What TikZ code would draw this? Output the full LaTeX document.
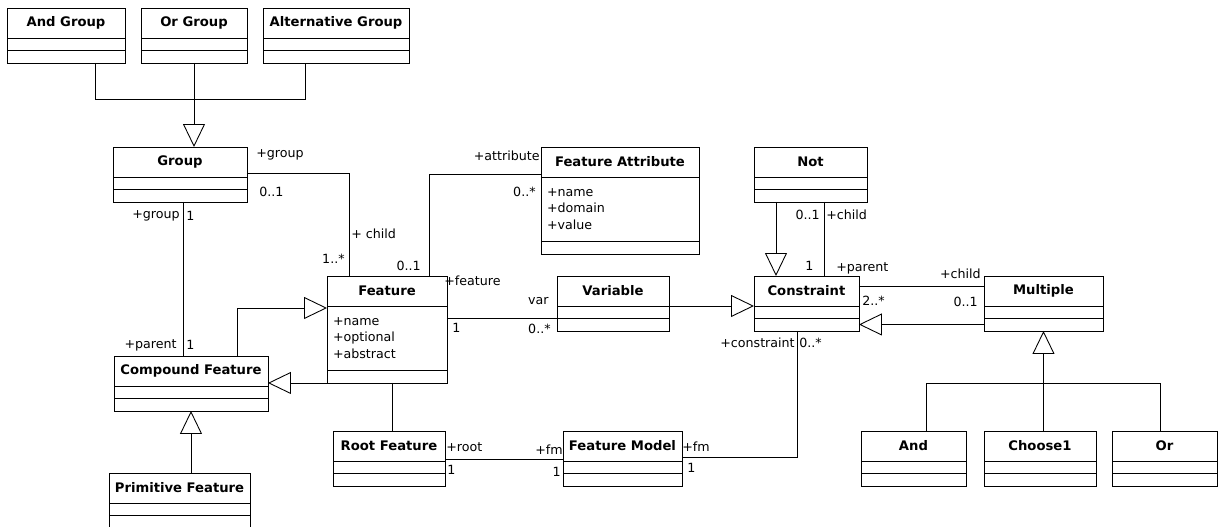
\documentclass[tikz,border=0pt]{standalone}
\usepackage{fontspec}
\setmainfont{DejaVu Sans}
\usetikzlibrary{positioning,arrows.meta}

% class box: name, top-left corner, width, title, attributes, attribute height
\newcommand{\umlclass}[6]{%
  \node[classhead, minimum width=#3, anchor=north west] (#1) at #2 {#4};
  \node[classbody, text width=#3-0.24cm, minimum height=#6, below=0pt of #1] (#1-a) {#5};
  \node[classbody, text width=#3-0.24cm, minimum height=0.26cm, below=0pt of #1-a] (#1-o) {};
}

\begin{document}
\begin{tikzpicture}[x=0.02cm, y=-0.02cm,
		classhead/.style={draw, line width=0.5pt, minimum height=0.6cm, inner sep=0pt, outer sep=0pt, font=\fontsize{7.5}{9}\selectfont\bfseries},
		classbody/.style={draw, line width=0.5pt, inner xsep=0.12cm, inner ysep=0pt, outer sep=0pt, align=left, font=\fontsize{7.2}{9.4}\selectfont},
		assoc/.style={line width=0.5pt},
		gen/.style={line width=0.5pt, -{Triangle[open, length=0.46cm, width=0.44cm]}},
		role/.style={inner sep=0pt, font=\fontsize{7.2}{8}\selectfont}
		]
		\useasboundingbox (0,0) rectangle (1225,527);
		
		% Groups
		\umlclass{andgrp}{(7,8)}{2.36cm}{And Group}{}{0.24cm}
		\umlclass{orgrp}{(141,8)}{2.12cm}{Or Group}{}{0.24cm}
		\umlclass{altgrp}{(263,8)}{2.92cm}{Alternative Group}{}{0.24cm}
		\umlclass{group}{(113,147)}{2.68cm}{Group}{}{0.24cm}
		
		% Features
		\umlclass{feature}{(327,276)}{2.4cm}{Feature}{+name\\+optional\\+abstract}{1.28cm}
		\umlclass{fattr}{(541,147)}{3.16cm}{Feature Attribute}{+name\\+domain\\+value}{1.28cm}
		\umlclass{compound}{(114,356)}{3.08cm}{Compound Feature}{}{0.24cm}
		\umlclass{primitive}{(109,473)}{2.82cm}{Primitive Feature}{}{0.24cm}
		\umlclass{root}{(333,431)}{2.24cm}{Root Feature}{}{0.24cm}
		\umlclass{fmodel}{(563,431)}{2.38cm}{Feature Model}{}{0.24cm}
		\umlclass{variable}{(557,276)}{2.24cm}{Variable}{}{0.24cm}
		
		% Constraints
		\umlclass{notc}{(754,147)}{2.26cm}{Not}{}{0.24cm}
		\umlclass{constraint}{(754,276)}{2.1cm}{Constraint}{}{0.24cm}
		\umlclass{multiple}{(984,276)}{2.38cm}{Multiple}{}{0.24cm}
		\umlclass{andc}{(861,431)}{2.1cm}{And}{}{0.24cm}
		\umlclass{choose}{(984,431)}{2.24cm}{Choose1}{}{0.24cm}
		\umlclass{orc}{(1112,431)}{2.1cm}{Or}{}{0.24cm}
		
		% Group hierarchy
		\coordinate (grpjoin) at ([yshift=-0.72cm]orgrp-o.south);
		\draw[assoc] ([xshift=0.58cm]andgrp-o.south) |- (grpjoin) -| ([xshift=-0.62cm]altgrp-o.south);
		\draw[gen] (orgrp-o.south) -- (orgrp-o.south |- group.north);
		
		% Group links
		\draw[assoc] ([yshift=-0.22cm]group.east) -| ([xshift=-0.76cm]feature.north);
		\draw[assoc] ([xshift=0.06cm]group-o.south) -- ([xshift=0.06cm]group-o.south |- compound.north);
		\node[role, anchor=west] (grp-r1) at (256,155) {+group};
		\node[role, anchor=west] (grp-m1) at (259,192) {0..1};
		\node[role, anchor=west] (chd-r1) at (351,234) {+ child};
		\node[role, anchor=east] (chd-m1) at (345,259) {1..*};
		\node[role, anchor=east] (grp-r2) at (180,216) {+group};
		\node[role, anchor=west] (grp-m2) at (186,216) {1};
		\node[role, anchor=east] (par-r1) at (177,345) {+parent};
		\node[role, anchor=west] (par-m1) at (186,345) {1};
		
		% Feature hierarchy
		\draw[gen] ([xshift=0.92cm]compound.north) |- ([yshift=-0.04cm]feature-a.north west);
		\draw[gen] (feature-o.south west) -- (feature-o.south west -| compound.east);
		\draw[gen] (compound-o.south |- primitive.north) -- (compound-o.south);
		
		% Feature links
		\draw[assoc] ([xshift=0.84cm]feature.north) |- ([yshift=-0.24cm]fattr.west);
		\node[role, anchor=east] (att-r) at (540,156) {+attribute};
		\node[role, anchor=east] (att-m) at (536,192) {0..*};
		\node[role, anchor=east] (fea-m1) at (421,266) {0..1};
		\node[role, anchor=west] (fea-r1) at (444,281) {+feature};
		
		\draw[assoc] ([yshift=0.4cm]feature-a.east) -- ([yshift=0.4cm]feature-a.east -| variable-a.west);
		\node[role, anchor=west] (fea-m2) at (452,328) {1};
		\node[role, anchor=east] (var-r) at (549,301) {var};
		\node[role, anchor=east] (var-m) at (551,329) {0..*};
		
		\draw[assoc] ([xshift=0.1cm]feature-o.south) -- ([xshift=0.1cm]feature-o.south |- root.north);
		\draw[assoc] ([yshift=-0.27cm]root.east) -- ([yshift=-0.27cm]root.east -| fmodel.west);
		\node[role, anchor=west] (root-r) at (446,447) {+root};
		\node[role, anchor=west] (root-m) at (447,470) {1};
		\node[role, anchor=east] (fm-r1) at (563,450) {+fm};
		\node[role, anchor=east] (fm-m1) at (561,472) {1};
		
		% Constraint links
		\draw[gen] (variable.south east) -- (variable.south east -| constraint.west);
		\draw[assoc] ([xshift=-0.19cm]constraint-o.south) |- ([yshift=-0.23cm]fmodel.east);
		\node[role, anchor=west] (fm-r2) at (682,447) {+fm};
		\node[role, anchor=west] (fm-m2) at (687,468) {1};
		\node[role, anchor=east] (con-r) at (795,343) {+constraint};
		\node[role, anchor=west] (con-m) at (799,343) {0..*};
		
		\draw[gen] ([xshift=-0.69cm]notc-o.south) -- ([xshift=-0.69cm]notc-o.south |- constraint.north);
		\draw[assoc] ([xshift=0.27cm]notc-o.south) -- ([xshift=0.27cm]notc-o.south |- constraint.north);
		\node[role, anchor=east] (not-m) at (820,215) {0..1};
		\node[role, anchor=west] (not-r) at (826,215) {+child};
		\node[role, anchor=west] (par-m2) at (805,266) {1};
		\node[role, anchor=west] (par-r2) at (836,268) {+parent};
		
		\draw[assoc] ([yshift=0.09cm]constraint.east) -- ([yshift=0.09cm]constraint.east -| multiple.west);
		\draw[gen] (multiple-o.west) -- (multiple-o.west -| constraint-o.east);
		\node[role, anchor=east] (mul-r) at (981,274) {+child};
		\node[role, anchor=west] (mul-m1) at (862,301) {2..*};
		\node[role, anchor=east] (mul-m2) at (978,302) {0..1};
		
		% Multiple hierarchy
		\coordinate (muljoin) at ([yshift=-1.04cm]multiple-o.south);
		\draw[assoc] ([xshift=0.25cm]andc.north) |- (muljoin) -| ([xshift=-0.09cm]orc.north);
		\draw[assoc] (choose.north -| muljoin) -- (muljoin);
		\draw[gen] (muljoin) -- (multiple-o.south);
		
	\end{tikzpicture}
\end{document}
